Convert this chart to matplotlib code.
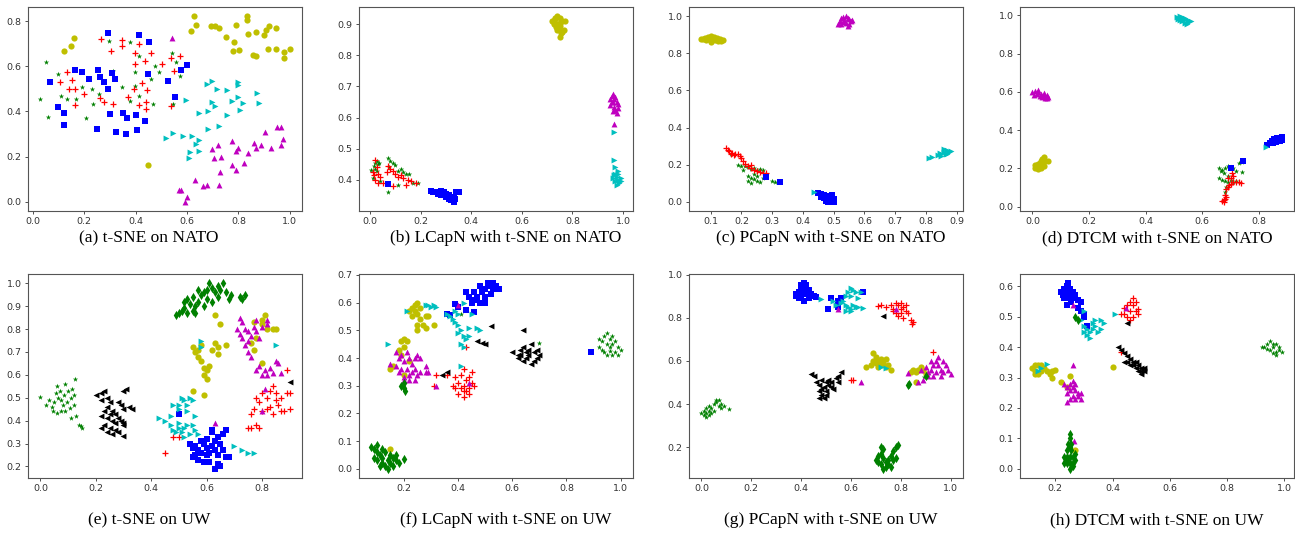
import matplotlib
matplotlib.use("Agg")
import matplotlib.pyplot as plt

# ---- (a) t-SNE on NATO ----
a_star = [(0.05,0.62),(0.03,0.455),(0.06,0.377),(0.1,0.566),(0.11,0.467),(0.135,0.457),(0.17,0.454),
          (0.19,0.508),(0.23,0.498),(0.233,0.433),(0.208,0.371),(0.259,0.477),(0.297,0.712),(0.314,0.579),
          (0.349,0.507),(0.378,0.709),(0.396,0.576),(0.397,0.513),(0.377,0.446),(0.413,0.647),(0.412,0.47),
          (0.46,0.542),(0.467,0.433),(0.475,0.601),(0.493,0.576),(0.541,0.657),(0.559,0.62),(0.573,0.557),
          (0.545,0.433)]
a_plus = [(0.264,0.72),(0.303,0.669),(0.349,0.719),(0.349,0.69),(0.414,0.698),(0.396,0.661),(0.46,0.66),
          (0.437,0.622),(0.396,0.61),(0.502,0.61),(0.536,0.635),(0.571,0.645),(0.548,0.58),(0.105,0.532),
          (0.133,0.576),(0.153,0.539),(0.14,0.498),(0.163,0.498),(0.163,0.427),(0.199,0.477),(0.261,0.458),
          (0.277,0.443),(0.312,0.433),(0.369,0.466),(0.395,0.498),(0.425,0.527),(0.444,0.495),(0.414,0.429),
          (0.44,0.443),(0.44,0.41),(0.539,0.426)]
a_square = [(0.068,0.532),(0.098,0.421),(0.12,0.392),(0.12,0.34),(0.166,0.586),(0.19,0.575),(0.22,0.542),
            (0.25,0.321),(0.255,0.582),(0.26,0.552),(0.278,0.53),(0.294,0.75),(0.294,0.5),(0.3,0.387),
            (0.307,0.572),(0.319,0.542),(0.323,0.311),(0.35,0.395),(0.362,0.298),(0.368,0.37),(0.403,0.385),
            (0.405,0.317),(0.414,0.74),(0.435,0.36),(0.447,0.566),(0.452,0.707),(0.525,0.535),(0.552,0.463),
            (0.577,0.583),(0.6,0.608)]
a_circle = [(0.12,0.67),(0.148,0.69),(0.16,0.726),(0.45,0.164),(0.617,0.756),(0.627,0.822),(0.634,0.785),
            (0.693,0.778),(0.71,0.778),(0.723,0.768),(0.75,0.728),(0.78,0.669),(0.784,0.706),(0.79,0.782),
            (0.804,0.674),(0.835,0.822),(0.835,0.804),(0.839,0.743),(0.855,0.65),(0.867,0.753),(0.869,0.648),
            (0.898,0.738),(0.908,0.76),(0.918,0.778),(0.914,0.679),(0.945,0.772),(0.947,0.678),(0.979,0.663),
            (0.979,0.638),(0.999,0.675)]
a_right = [(0.596,0.451),(0.676,0.524),(0.697,0.533),(0.715,0.501),(0.755,0.495),(0.798,0.532),(0.798,0.519),
           (0.871,0.48),(0.881,0.439),(0.776,0.445),(0.798,0.466),(0.806,0.407),(0.817,0.436),(0.697,0.442),
           (0.708,0.426),(0.647,0.392),(0.683,0.4),(0.757,0.383),(0.68,0.323),(0.724,0.334),(0.519,0.284),
           (0.547,0.303),(0.586,0.292),(0.62,0.292),(0.647,0.274),(0.637,0.255),(0.613,0.221),(0.647,0.225),
           (0.608,0.192)]
a_up = [(0.54,0.726),(0.569,0.053),(0.575,0.053),(0.592,0.0),(0.6,0.019),(0.63,0.096),(0.664,0.068),
        (0.677,0.074),(0.697,0.234),(0.706,0.194),(0.722,0.253),(0.726,0.072),(0.73,0.133),(0.732,0.197),
        (0.774,0.271),(0.774,0.165),(0.79,0.224),(0.792,0.14),(0.797,0.24),(0.822,0.171),(0.839,0.218),
        (0.859,0.262),(0.869,0.24),(0.889,0.252),(0.905,0.309),(0.927,0.239),(0.949,0.33),(0.967,0.33),
        (0.967,0.253),(0.975,0.277)]

# ---- (b) LCapN with t-SNE on NATO ----
b_star = [(0.005,0.432),(0.01,0.405),(0.015,0.445),(0.02,0.455),(0.025,0.46),(0.03,0.45),(0.035,0.455),
          (0.02,0.435),(0.04,0.395),(0.07,0.47),(0.08,0.46),(0.09,0.455),(0.1,0.448),(0.075,0.44),(0.11,0.43),
          (0.12,0.435),(0.13,0.425),(0.14,0.42),(0.155,0.42),(0.17,0.39),(0.19,0.39),(0.07,0.362),
          (0.11,0.383),(0.025,0.43)]
b_plus = [(0.01,0.425),(0.02,0.465),(0.015,0.415),(0.025,0.44),(0.03,0.42),(0.02,0.4),(0.03,0.39),
          (0.05,0.39),(0.065,0.425),(0.07,0.445),(0.08,0.435),(0.09,0.43),(0.1,0.42),(0.11,0.41),(0.12,0.415),
          (0.13,0.405),(0.15,0.4),(0.16,0.395),(0.18,0.39),(0.09,0.38),(0.04,0.41),(0.14,0.385)]
b_square = [(0.24,0.365),(0.25,0.362),(0.26,0.36),(0.27,0.362),(0.28,0.365),(0.29,0.362),(0.27,0.355),
            (0.28,0.352),(0.29,0.35),(0.3,0.355),(0.31,0.35),(0.32,0.345),(0.33,0.345),(0.34,0.36),
            (0.35,0.362),(0.32,0.335),(0.33,0.33),(0.3,0.345),(0.31,0.338),(0.335,0.34),(0.07,0.388)]
b_circle = [(0.72,0.91),(0.73,0.92),(0.74,0.925),(0.75,0.92),(0.73,0.9),(0.74,0.9),(0.75,0.905),(0.76,0.91),
            (0.735,0.89),(0.745,0.885),(0.75,0.895),(0.74,0.88),(0.755,0.87),(0.76,0.875),(0.765,0.88),
            (0.75,0.86),(0.725,0.9),(0.73,0.915),(0.77,0.91)]
b_right = [(0.965,0.553),(0.965,0.465),(0.97,0.44),(0.98,0.43),(0.97,0.42),(0.975,0.41),(0.96,0.405),
           (0.98,0.4),(0.99,0.405),(0.97,0.395),(0.985,0.39),(0.975,0.385),(0.99,0.395),(0.965,0.415),
           (0.98,0.42)]
b_up = [(0.95,0.66),(0.955,0.67),(0.96,0.675),(0.97,0.665),(0.975,0.65),(0.98,0.645),(0.95,0.64),(0.96,0.65),
        (0.965,0.635),(0.97,0.625),(0.96,0.62),(0.975,0.615),(0.955,0.65),(0.965,0.66),(0.98,0.63),
        (0.965,0.578)]

# ---- (c) PCapN with t-SNE on NATO ----
c_star = [(0.19,0.2),(0.2,0.195),(0.21,0.19),(0.22,0.185),(0.23,0.175),(0.24,0.18),(0.25,0.17),(0.26,0.175),
          (0.27,0.17),(0.22,0.14),(0.23,0.13),(0.22,0.11),(0.23,0.1),(0.24,0.12),(0.25,0.11),(0.26,0.105),
          (0.24,0.15),(0.25,0.14),(0.27,0.13),(0.3,0.11),(0.31,0.108),(0.205,0.17),(0.165,0.26)]
c_plus = [(0.15,0.29),(0.155,0.28),(0.16,0.275),(0.17,0.265),(0.18,0.26),(0.19,0.255),(0.195,0.245),
          (0.2,0.235),(0.205,0.22),(0.21,0.205),(0.22,0.19),(0.23,0.18),(0.24,0.17),(0.25,0.165),(0.26,0.16),
          (0.27,0.155),(0.28,0.155),(0.165,0.26),(0.175,0.25),(0.23,0.2)]
c_square = [(0.45,0.045),(0.46,0.04),(0.47,0.035),(0.48,0.03),(0.49,0.025),(0.5,0.015),(0.49,0.005),
            (0.48,0.01),(0.47,0.02),(0.46,0.025),(0.48,0.0),(0.5,0.0),(0.495,0.035),(0.475,0.005),
            (0.485,0.02),(0.28,0.135),(0.325,0.105)]
c_circle = [(0.07,0.88),(0.08,0.885),(0.09,0.89),(0.1,0.895),(0.11,0.89),(0.12,0.885),(0.13,0.875),
            (0.14,0.87),(0.085,0.87),(0.095,0.875),(0.105,0.875),(0.115,0.87),(0.125,0.865),(0.1,0.86),
            (0.075,0.875),(0.135,0.865)]
c_right = [(0.81,0.235),(0.82,0.24),(0.84,0.25),(0.85,0.26),(0.86,0.27),(0.87,0.28),(0.86,0.285),(0.875,0.27),
           (0.88,0.275),(0.85,0.245),(0.865,0.26),(0.845,0.265),(0.87,0.26),(0.435,0.055)]
c_up = [(0.515,0.96),(0.52,0.975),(0.525,0.99),(0.53,0.995),(0.54,1.0),(0.545,0.99),(0.55,0.985),
        (0.555,0.975),(0.56,0.98),(0.53,0.97),(0.54,0.965),(0.55,0.96),(0.545,0.945),(0.525,0.96),(0.535,0.98)]

# ---- (d) DTCM with t-SNE on NATO ----
d_star = [(0.66,0.2),(0.665,0.185),(0.67,0.19),(0.675,0.175),(0.68,0.2),(0.69,0.21),(0.7,0.205),(0.71,0.2),
          (0.73,0.23),(0.74,0.235),(0.72,0.185),(0.74,0.18),(0.67,0.14),(0.68,0.135),(0.69,0.13),(0.7,0.14),
          (0.71,0.13),(0.72,0.135),(0.69,0.16),(0.685,0.1),(0.68,0.075),(0.66,0.15)]
d_plus = [(0.67,0.03),(0.675,0.035),(0.68,0.04),(0.685,0.05),(0.68,0.06),(0.685,0.09),(0.69,0.1),(0.695,0.11),
          (0.7,0.12),(0.71,0.13),(0.72,0.13),(0.73,0.13),(0.735,0.125),(0.7,0.15),(0.71,0.16),(0.705,0.175),
          (0.69,0.15),(0.675,0.025)]
d_square = [(0.83,0.32),(0.84,0.33),(0.85,0.34),(0.86,0.35),(0.87,0.36),(0.88,0.365),(0.85,0.33),(0.86,0.34),
            (0.87,0.35),(0.875,0.345),(0.865,0.36),(0.88,0.35),(0.855,0.355),(0.845,0.345),(0.7,0.2),
            (0.745,0.24)]
d_circle = [(0.01,0.2),(0.015,0.21),(0.02,0.22),(0.025,0.23),(0.03,0.24),(0.035,0.25),(0.04,0.26),
            (0.045,0.24),(0.055,0.24),(0.02,0.195),(0.03,0.2),(0.04,0.21),(0.01,0.215),(0.025,0.205),
            (0.035,0.225)]
d_right = [(0.51,0.99),(0.52,0.995),(0.53,0.99),(0.54,0.985),(0.55,0.975),(0.56,0.97),(0.52,0.975),
           (0.53,0.97),(0.54,0.96),(0.545,0.955),(0.525,0.985),(0.535,0.975),(0.55,0.965),(0.515,0.98),
           (0.825,0.31)]
d_up = [(0.0,0.6),(0.01,0.605),(0.02,0.6),(0.03,0.59),(0.04,0.595),(0.05,0.585),(0.005,0.585),(0.015,0.59),
        (0.025,0.58),(0.035,0.575),(0.045,0.57),(0.055,0.575),(0.02,0.61),(0.04,0.58),(0.05,0.565)]

# ---- (e) t-SNE on UW ----
e_star = [(0.0,0.505),(0.02,0.47),(0.03,0.49),(0.04,0.46),(0.045,0.44),(0.05,0.48),(0.055,0.52),(0.06,0.55),
          (0.065,0.5),(0.07,0.53),(0.075,0.49),(0.075,0.44),(0.08,0.47),(0.085,0.51),(0.09,0.56),(0.095,0.48),
          (0.1,0.53),(0.105,0.455),(0.11,0.5),(0.115,0.54),(0.12,0.51),(0.125,0.58),(0.12,0.47),(0.13,0.42),
          (0.11,0.41),(0.14,0.38),(0.15,0.37),(0.145,0.375),(0.09,0.44),(0.06,0.435)]
e_plus = [(0.78,0.5),(0.79,0.48),(0.76,0.43),(0.77,0.45),(0.8,0.44),(0.8,0.52),(0.82,0.5),(0.83,0.53),
          (0.84,0.55),(0.85,0.52),(0.85,0.49),(0.86,0.47),(0.83,0.46),(0.84,0.43),(0.87,0.44),(0.88,0.44),
          (0.9,0.45),(0.89,0.52),(0.9,0.52),(0.89,0.62),(0.75,0.37),(0.76,0.37),(0.78,0.38),(0.79,0.37),
          (0.82,0.45),(0.87,0.5),(0.45,0.26),(0.48,0.33),(0.5,0.33)]
e_square = [(0.5,0.43),(0.54,0.3),(0.55,0.28),(0.56,0.29),(0.57,0.27),(0.55,0.24),(0.56,0.25),(0.58,0.26),
            (0.58,0.31),(0.59,0.3),(0.6,0.32),(0.6,0.28),(0.61,0.26),(0.62,0.29),(0.62,0.35),(0.63,0.31),
            (0.63,0.27),(0.64,0.33),(0.64,0.25),(0.65,0.3),(0.66,0.34),(0.67,0.36),(0.67,0.24),(0.66,0.27),
            (0.59,0.22),(0.61,0.22),(0.63,0.19),(0.64,0.21),(0.6,0.25),(0.62,0.36),(0.57,0.23),(0.68,0.24),
            (0.65,0.2)]
e_circle = [(0.55,0.72),(0.56,0.7),(0.57,0.71),(0.58,0.73),(0.57,0.68),(0.58,0.66),(0.59,0.63),(0.59,0.6),
            (0.6,0.62),(0.61,0.64),(0.6,0.58),(0.62,0.71),(0.63,0.74),(0.64,0.72),(0.64,0.69),(0.67,0.73),
            (0.65,0.82),(0.63,0.86),(0.55,0.53),(0.59,0.51),(0.8,0.84),(0.81,0.86),(0.8,0.82),(0.82,0.8),
            (0.84,0.8),(0.78,0.76),(0.76,0.74),(0.77,0.71),(0.8,0.65),(0.85,0.8),(0.77,0.83)]
e_right = [(0.43,0.41),(0.45,0.4),(0.47,0.42),(0.48,0.47),(0.5,0.47),(0.5,0.45),(0.51,0.5),(0.52,0.49),
           (0.53,0.47),(0.54,0.5),(0.55,0.49),(0.53,0.44),(0.56,0.42),(0.48,0.36),(0.5,0.37),(0.52,0.37),
           (0.53,0.38),(0.55,0.38),(0.49,0.35),(0.51,0.35),(0.52,0.33),(0.54,0.34),(0.56,0.36),(0.57,0.34),
           (0.5,0.39),(0.47,0.38),(0.58,0.75),(0.58,0.72),(0.7,0.29),(0.73,0.27),(0.75,0.26),(0.77,0.26),
           (0.85,0.73)]
e_up = [(0.71,0.8),(0.72,0.78),(0.72,0.85),(0.73,0.76),(0.74,0.8),(0.74,0.73),(0.75,0.79),(0.75,0.7),
        (0.76,0.68),(0.76,0.77),(0.77,0.81),(0.78,0.84),(0.78,0.79),(0.79,0.76),(0.8,0.81),(0.82,0.84),
        (0.82,0.82),(0.75,0.75),(0.73,0.83),(0.78,0.62),(0.79,0.64),(0.8,0.6),(0.81,0.62),(0.82,0.6),
        (0.83,0.63),(0.84,0.61),(0.85,0.66),(0.86,0.65),(0.87,0.61),(0.81,0.54),(0.8,0.44),(0.63,0.39)]
e_left = [(0.2,0.51),(0.22,0.52),(0.23,0.53),(0.24,0.5),(0.25,0.48),(0.22,0.49),(0.24,0.46),(0.23,0.44),
          (0.25,0.43),(0.26,0.44),(0.27,0.43),(0.22,0.42),(0.24,0.41),(0.26,0.4),(0.28,0.41),(0.27,0.39),
          (0.29,0.4),(0.23,0.38),(0.25,0.37),(0.27,0.36),(0.22,0.37),(0.24,0.35),(0.26,0.34),(0.3,0.335),
          (0.3,0.53),(0.31,0.54),(0.29,0.47),(0.3,0.45),(0.32,0.46),(0.33,0.45),(0.28,0.48),(0.3,0.39),
          (0.28,0.35),(0.3,0.38),(0.9,0.57)]
e_diamond = [(0.49,0.86),(0.5,0.87),(0.51,0.88),(0.52,0.89),(0.52,0.92),(0.53,0.93),(0.54,0.91),(0.55,0.88),
             (0.55,0.94),(0.56,0.9),(0.57,0.92),(0.58,0.95),(0.59,0.96),(0.6,0.93),(0.59,0.9),(0.6,0.97),
             (0.61,1.0),(0.62,0.98),(0.63,0.96),(0.64,0.94),(0.65,0.97),(0.66,1.0),(0.67,0.96),(0.68,0.93),
             (0.69,0.95),(0.62,0.92),(0.64,0.99),(0.57,0.97),(0.73,0.93),(0.74,0.95),(0.72,0.94),(0.53,0.87),
             (0.56,0.87)]

# ---- (f) LCapN with t-SNE on UW ----
f_star = [(0.7,0.455),(0.92,0.47),(0.93,0.46),(0.94,0.48),(0.95,0.49),(0.96,0.47),(0.97,0.48),(0.98,0.46),
          (0.95,0.45),(0.96,0.44),(0.97,0.45),(0.99,0.44),(1.0,0.43),(0.93,0.43),(0.94,0.42),(0.95,0.41),
          (0.97,0.41),(0.98,0.42),(0.96,0.425),(0.99,0.41),(0.92,0.44),(0.41,0.56)]
f_plus = [(0.32,0.34),(0.36,0.34),(0.38,0.3),(0.39,0.33),(0.4,0.31),(0.41,0.34),(0.42,0.36),(0.42,0.3),
          (0.43,0.32),(0.43,0.28),(0.44,0.29),(0.45,0.35),(0.4,0.27),(0.41,0.29),(0.42,0.26),(0.44,0.33),
          (0.45,0.31),(0.46,0.3),(0.39,0.29),(0.42,0.28),(0.44,0.27),(0.43,0.44),(0.31,0.3)]
f_square = [(0.36,0.56),(0.37,0.555),(0.39,0.595),(0.4,0.585),(0.43,0.575),(0.46,0.565),(0.43,0.64),
            (0.44,0.62),(0.45,0.6),(0.46,0.61),(0.47,0.62),(0.48,0.66),(0.49,0.64),(0.5,0.65),(0.51,0.67),
            (0.52,0.66),(0.53,0.65),(0.54,0.66),(0.55,0.65),(0.5,0.62),(0.52,0.63),(0.48,0.6),(0.5,0.6),
            (0.46,0.64),(0.53,0.67),(0.89,0.42)]
f_circle = [(0.15,0.07),(0.22,0.57),(0.23,0.58),(0.24,0.59),(0.25,0.6),(0.26,0.58),(0.24,0.57),(0.25,0.56),
            (0.23,0.55),(0.26,0.54),(0.28,0.55),(0.29,0.55),(0.25,0.52),(0.27,0.52),(0.28,0.51),(0.25,0.5),
            (0.31,0.52),(0.19,0.46),(0.2,0.47),(0.21,0.46),(0.2,0.44),(0.18,0.43),(0.19,0.41),(0.15,0.36),
            (0.2,0.34),(0.22,0.39),(0.16,0.37)]
f_right = [(0.14,0.45),(0.21,0.57),(0.28,0.59),(0.29,0.59),(0.3,0.585),(0.31,0.59),(0.32,0.585),(0.36,0.56),
           (0.37,0.55),(0.38,0.54),(0.39,0.53),(0.4,0.52),(0.41,0.5),(0.4,0.49),(0.42,0.48),(0.43,0.47),
           (0.44,0.48),(0.41,0.45),(0.42,0.44),(0.44,0.51),(0.45,0.56),(0.47,0.51),(0.48,0.5),(0.42,0.6),
           (0.41,0.37),(0.39,0.57),(0.4,0.56)]
f_up = [(0.17,0.42),(0.18,0.4),(0.19,0.41),(0.2,0.39),(0.21,0.42),(0.22,0.4),(0.23,0.38),(0.24,0.4),
        (0.25,0.41),(0.26,0.4),(0.17,0.37),(0.18,0.35),(0.19,0.36),(0.2,0.33),(0.21,0.36),(0.22,0.34),
        (0.23,0.35),(0.24,0.36),(0.25,0.34),(0.26,0.35),(0.2,0.32),(0.22,0.32),(0.24,0.32),(0.28,0.37),
        (0.28,0.35),(0.29,0.35),(0.32,0.3),(0.4,0.59),(0.44,0.31),(0.15,0.38)]
f_left = [(0.34,0.34),(0.36,0.35),(0.47,0.46),(0.49,0.455),(0.5,0.45),(0.52,0.515),(0.64,0.5),(0.6,0.42),
          (0.62,0.41),(0.63,0.43),(0.64,0.44),(0.65,0.42),(0.66,0.43),(0.67,0.45),(0.68,0.42),(0.69,0.43),
          (0.62,0.4),(0.64,0.39),(0.65,0.4),(0.67,0.38),(0.68,0.39),(0.69,0.4),(0.7,0.41),(0.66,0.41),
          (0.63,0.41)]
f_diamond = [(0.08,0.08),(0.09,0.07),(0.1,0.06),(0.09,0.04),(0.1,0.03),(0.11,0.05),(0.12,0.04),(0.12,0.02),
             (0.13,0.01),(0.14,0.0),(0.14,0.03),(0.15,0.05),(0.15,0.02),(0.16,0.04),(0.17,0.03),(0.18,0.02),
             (0.11,0.01),(0.13,0.06),(0.2,0.035),(0.16,0.01),(0.1,0.085),(0.12,0.07),(0.17,0.05),
             (0.19,0.3),(0.2,0.29),(0.205,0.28),(0.2,0.31)]

# ---- (g) PCapN with t-SNE on UW ----
g_star = [(0.54,0.86),(0.0,0.36),(0.01,0.37),(0.01,0.35),(0.02,0.38),(0.02,0.36),(0.03,0.37),(0.03,0.39),
          (0.04,0.38),(0.04,0.36),(0.05,0.4),(0.05,0.37),(0.06,0.41),(0.06,0.42),(0.07,0.42),(0.07,0.39),
          (0.08,0.4),(0.08,0.38),(0.09,0.39),(0.11,0.375),(0.02,0.34),(0.03,0.35),(0.895,0.525)]
g_plus = [(0.71,0.855),(0.72,0.86),(0.74,0.85),(0.76,0.86),(0.77,0.84),(0.78,0.87),(0.79,0.86),(0.8,0.84),
          (0.8,0.87),(0.81,0.85),(0.82,0.83),(0.82,0.86),(0.78,0.82),(0.79,0.81),(0.8,0.82),(0.83,0.82),
          (0.84,0.79),(0.845,0.77),(0.85,0.78),(0.6,0.51),(0.61,0.51),(0.93,0.64),(0.77,0.83),(0.81,0.8)]
g_square = [(0.38,0.9),(0.39,0.92),(0.39,0.89),(0.4,0.95),(0.41,0.93),(0.4,0.9),(0.41,0.88),(0.42,0.91),
            (0.42,0.95),(0.43,0.93),(0.43,0.89),(0.44,0.91),(0.45,0.9),(0.46,0.895),(0.38,0.91),(0.41,0.96),
            (0.4,0.93),(0.52,0.89),(0.51,0.84),(0.55,0.88),(0.56,0.89),(0.65,0.92),(0.55,0.85)]
g_circle = [(0.66,0.57),(0.68,0.58),(0.69,0.6),(0.69,0.635),(0.7,0.59),(0.7,0.62),(0.71,0.6),(0.72,0.58),
            (0.72,0.61),(0.73,0.59),(0.74,0.57),(0.75,0.58),(0.76,0.56),(0.71,0.57),(0.74,0.61),(0.84,0.55),
            (0.85,0.56),(0.86,0.55),(0.87,0.56),(0.86,0.5),(0.88,0.57),(0.9,0.54),(0.89,0.56)]
g_right = [(0.48,0.885),(0.53,0.88),(0.54,0.86),(0.56,0.87),(0.57,0.88),(0.58,0.86),(0.59,0.85),(0.6,0.84),
           (0.61,0.86),(0.62,0.85),(0.63,0.85),(0.65,0.845),(0.6,0.83),(0.58,0.83),(0.59,0.92),(0.6,0.94),
           (0.61,0.93),(0.62,0.92),(0.58,0.9),(0.64,0.92),(0.6,0.9),(0.63,0.89),(0.72,0.57),(0.74,0.565)]
g_up = [(0.55,0.84),(0.64,0.5),(0.78,0.84),(0.83,0.545),(0.87,0.5),(0.88,0.56),(0.9,0.57),(0.91,0.55),
        (0.92,0.6),(0.92,0.56),(0.93,0.58),(0.93,0.53),(0.94,0.55),(0.94,0.6),(0.95,0.62),(0.95,0.58),
        (0.96,0.56),(0.96,0.53),(0.97,0.6),(0.97,0.55),(0.98,0.58),(0.99,0.56),(1.0,0.54),(0.91,0.53),
        (0.89,0.51)]
g_left = [(0.44,0.54),(0.45,0.53),(0.46,0.5),(0.47,0.49),(0.47,0.46),(0.48,0.51),(0.48,0.47),(0.48,0.44),
          (0.49,0.43),(0.49,0.48),(0.5,0.5),(0.5,0.46),(0.51,0.49),(0.51,0.51),(0.52,0.48),(0.52,0.5),
          (0.53,0.47),(0.54,0.52),(0.55,0.5),(0.56,0.55),(0.55,0.53),(0.47,0.43),(0.5,0.44),(0.73,0.81)]
g_diamond = [(0.7,0.14),(0.71,0.16),(0.71,0.13),(0.72,0.2),(0.72,0.17),(0.72,0.12),(0.73,0.19),(0.73,0.15),
             (0.73,0.1),(0.74,0.13),(0.74,0.11),(0.75,0.14),(0.75,0.12),(0.76,0.16),(0.76,0.11),(0.77,0.18),
             (0.77,0.14),(0.78,0.2),(0.78,0.15),(0.79,0.21),(0.83,0.49),(0.835,0.495),(0.9,0.53)]

# ---- (h) DTCM with t-SNE on UW ----
h_star = [(0.93,0.4),(0.94,0.41),(0.95,0.42),(0.96,0.4),(0.97,0.41),(0.98,0.39),(0.99,0.385),(0.95,0.39),
          (0.96,0.38),(0.97,0.385),(0.98,0.4),(0.94,0.395),(0.92,0.4),(0.96,0.41),(0.97,0.375)]
h_plus = [(0.43,0.51),(0.44,0.53),(0.45,0.54),(0.46,0.55),(0.47,0.56),(0.47,0.54),(0.48,0.55),(0.46,0.52),
          (0.45,0.5),(0.46,0.49),(0.47,0.5),(0.48,0.52),(0.49,0.525),(0.49,0.51),(0.44,0.51),(0.43,0.385)]
h_square = [(0.22,0.58),(0.225,0.57),(0.23,0.59),(0.23,0.56),(0.24,0.6),(0.24,0.58),(0.24,0.56),(0.245,0.61),
            (0.25,0.59),(0.25,0.57),(0.255,0.55),(0.26,0.58),(0.26,0.56),(0.27,0.57),(0.28,0.555),
            (0.29,0.55),(0.235,0.57),(0.24,0.54),(0.28,0.53),(0.29,0.52),(0.3,0.51),(0.3,0.5),(0.31,0.47)]
h_circle = [(0.12,0.33),(0.13,0.34),(0.14,0.34),(0.13,0.32),(0.14,0.31),(0.15,0.32),(0.16,0.33),(0.17,0.32),
            (0.18,0.31),(0.19,0.32),(0.2,0.325),(0.19,0.3),(0.13,0.31),(0.22,0.285),(0.25,0.305),(0.24,0.27),
            (0.4,0.335),(0.27,0.06),(0.15,0.34)]
h_right = [(0.29,0.49),(0.3,0.47),(0.3,0.45),(0.31,0.46),(0.31,0.44),(0.32,0.45),(0.32,0.43),(0.33,0.48),
           (0.33,0.46),(0.34,0.47),(0.34,0.49),(0.35,0.45),(0.36,0.46),(0.37,0.48),(0.36,0.49),(0.3,0.52),
           (0.41,0.51),(0.14,0.32),(0.17,0.345),(0.15,0.33)]
h_up = [(0.23,0.28),(0.24,0.27),(0.24,0.25),(0.25,0.28),(0.25,0.26),(0.25,0.23),(0.26,0.29),(0.26,0.27),
        (0.26,0.24),(0.27,0.26),(0.27,0.28),(0.28,0.25),(0.28,0.24),(0.29,0.23),(0.29,0.25),(0.24,0.22),
        (0.27,0.23),(0.26,0.34),(0.265,0.09),(0.445,0.53),(0.26,0.54)]
h_left = [(0.45,0.48),(0.42,0.4),(0.43,0.39),(0.44,0.38),(0.45,0.37),(0.44,0.35),(0.46,0.36),(0.47,0.35),
          (0.47,0.34),(0.48,0.33),(0.49,0.34),(0.49,0.32),(0.5,0.33),(0.5,0.32),(0.51,0.32),(0.51,0.33),
          (0.48,0.35),(0.46,0.34),(0.5,0.31),(0.45,0.35)]
h_diamond = [(0.27,0.5),(0.28,0.49),(0.25,0.115),(0.25,0.1),(0.245,0.08),(0.25,0.07),(0.24,0.06),(0.255,0.06),
             (0.23,0.04),(0.24,0.04),(0.25,0.04),(0.26,0.04),(0.27,0.05),(0.23,0.02),(0.24,0.02),(0.25,0.02),
             (0.26,0.02),(0.25,0.0),(0.26,0.01),(0.24,0.03),(0.27,0.03),(0.255,0.08)]

captions = ["(a) t-SNE on NATO", "(b) LCapN with t-SNE on NATO", "(c) PCapN with t-SNE on NATO",
            "(d) DTCM with t-SNE on NATO", "(e) t-SNE on UW", "(f) LCapN with t-SNE on UW",
            "(g) PCapN with t-SNE on UW", "(h) DTCM with t-SNE on UW"]

# class -> (color, marker, size)
styles = {"star": ("g", "*", 16), "plus": ("r", "+", 24), "square": ("b", "s", 18), "circle": ("y", "o", 20),
          "right": ("c", ">", 18), "up": ("m", "^", 18), "left": ("k", "<", 18), "diamond": ("g", "d", 22)}

panels = [
    {"star": a_star, "plus": a_plus, "square": a_square, "circle": a_circle, "right": a_right, "up": a_up},
    {"star": b_star, "plus": b_plus, "square": b_square, "circle": b_circle, "right": b_right, "up": b_up},
    {"star": c_star, "plus": c_plus, "square": c_square, "circle": c_circle, "right": c_right, "up": c_up},
    {"star": d_star, "plus": d_plus, "square": d_square, "circle": d_circle, "right": d_right, "up": d_up},
    {"star": e_star, "plus": e_plus, "square": e_square, "circle": e_circle, "right": e_right, "up": e_up,
     "left": e_left, "diamond": e_diamond},
    {"star": f_star, "plus": f_plus, "square": f_square, "circle": f_circle, "right": f_right, "up": f_up,
     "left": f_left, "diamond": f_diamond},
    {"star": g_star, "plus": g_plus, "square": g_square, "circle": g_circle, "right": g_right, "up": g_up,
     "left": g_left, "diamond": g_diamond},
    {"star": h_star, "plus": h_plus, "square": h_square, "circle": h_circle, "right": h_right, "up": h_up,
     "left": h_left, "diamond": h_diamond},
]

W, H = 1295, 534
fig = plt.figure(figsize=(W / 100, H / 100), dpi=100)

lefts = [28, 359, 689, 1020]
tops = [7, 274]
cap_x = [149, 506, 831, 1157]
cap_y = [238, 520]
aw, ah = 274, 204

for i, panel in enumerate(panels):
    r, c = divmod(i, 4)
    ax = fig.add_axes([lefts[c] / W, 1 - (tops[r] + ah) / H, aw / W, ah / H])
    for name, pts in panel.items():
        col, mk, sz = styles[name]
        xs = [p[0] for p in pts]
        ys = [p[1] for p in pts]
        if name == "plus":
            ax.scatter(xs, ys, color=col, marker=mk, s=sz, linewidths=0.9)
        else:
            ax.scatter(xs, ys, color=col, marker=mk, s=sz, linewidths=0)
    ax.tick_params(labelsize=6.8, length=2.5, width=0.6, pad=2, colors="#333333")
    for sp in ax.spines.values():
        sp.set_color("#555555")
        sp.set_linewidth(0.8)
    fig.text(cap_x[c] / W, 1 - cap_y[r] / H, captions[i], ha="center", va="center",
             fontsize=12.5, family="Liberation Serif")

fig.savefig("out.png", dpi=100)
